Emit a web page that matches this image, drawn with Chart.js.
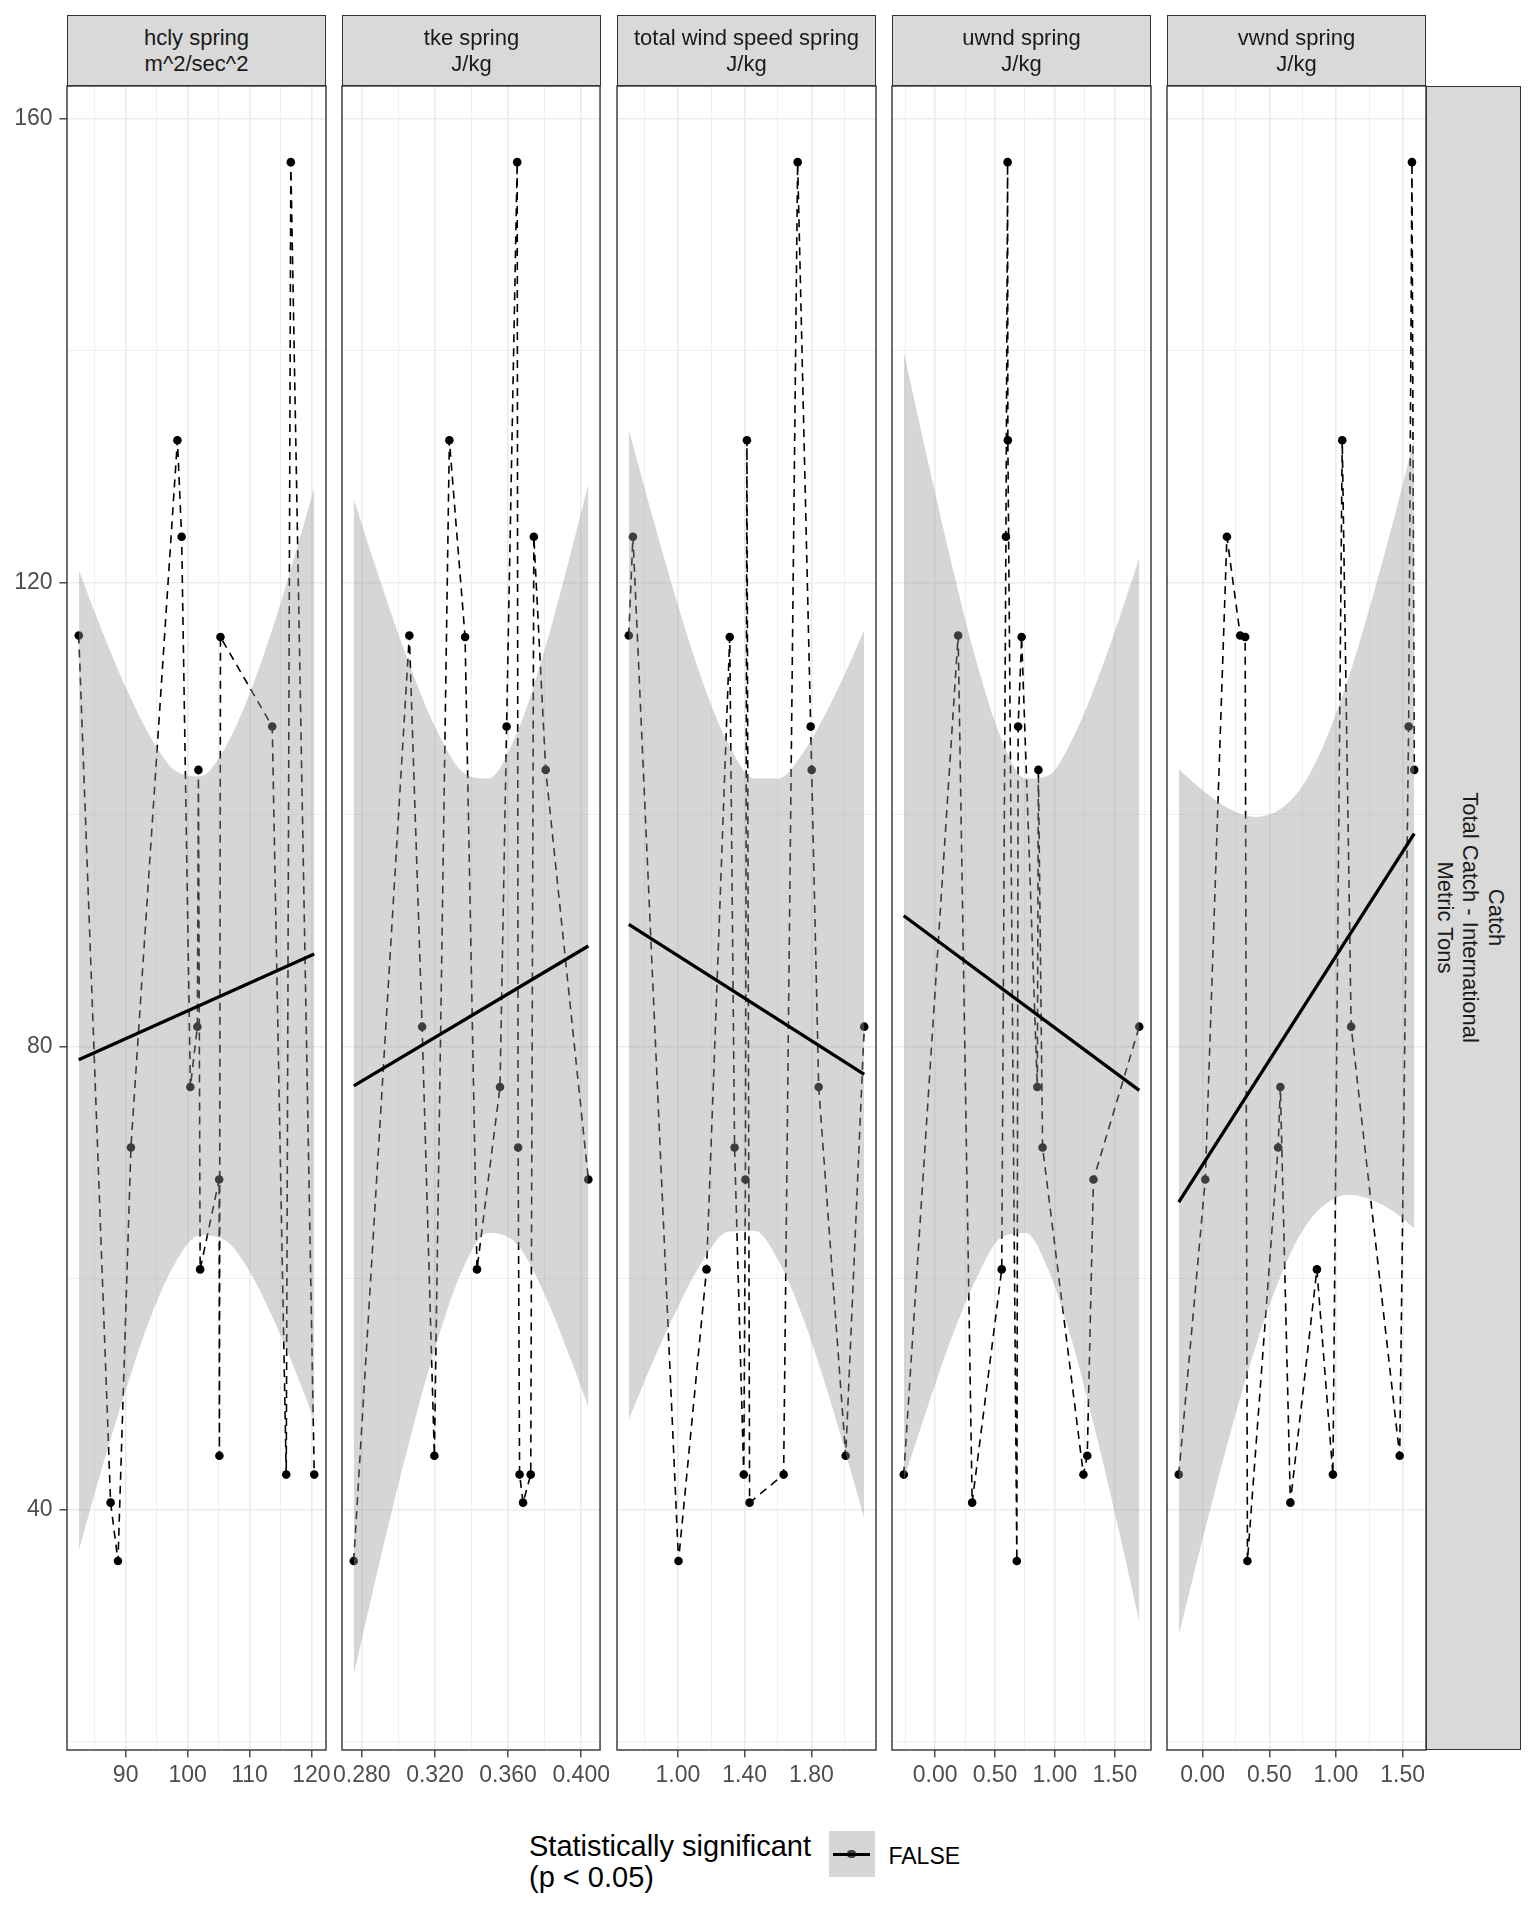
<!DOCTYPE html>
<html>
<head>
<meta charset="utf-8">
<title>Catch vs spring wind indices</title>
<script src="https://cdn.jsdelivr.net/npm/chart.js@4.4.1/dist/chart.umd.min.js"></script>
<style>
html,body{margin:0;padding:0;background:#ffffff;}
body{width:1536px;height:1920px;position:relative;overflow:hidden;font-family:"Liberation Sans",Arial,Helvetica,sans-serif;}
canvas.panel{position:absolute;z-index:1;}
.strip{position:absolute;box-sizing:border-box;background:#D9D9D9;border:1.3px solid #333333;color:#1A1A1A;font-size:22px;line-height:25.7px;text-align:center;display:flex;align-items:center;justify-content:center;z-index:2;}
.rtext{white-space:nowrap;transform:translateX(-3px) rotate(90deg);}
.legTitle{position:absolute;left:529px;top:1831px;font-size:29px;line-height:30.5px;color:#000;white-space:nowrap;}
.legKey{position:absolute;left:829px;top:1831px;width:46px;height:46px;background:#D6D6D6;}
.legDot{position:absolute;left:18.4px;top:18.7px;width:8.6px;height:8.6px;border-radius:50%;background:#3D3D3D;}
.legLine{position:absolute;left:4px;top:21.5px;width:37px;height:3.6px;background:#000;}
.legText{position:absolute;left:888.5px;top:1844.5px;font-size:23px;line-height:23px;color:#000;white-space:nowrap;}
</style>
</head>
<body>
<script>
// ---------------- data ----------------
// shared response: Catch, Total Catch - International, Metric Tons (one value per year)
const catchTons = [156.28, 132.29, 123.97, 115.45, 115.31, 107.6, 103.85, 81.7, 76.5, 71.28, 68.52, 60.76, 44.69, 43.06, 43.06, 40.64, 35.6];

// predictor values for the same years, one array per facet
const hclyX = [116.67, 98.36, 99.04, 82.43, 105.31, 113.67, 101.75, 101.58, 100.45, 90.85, 105.10, 102.03, 105.14, 115.93, 120.45, 87.57, 88.76];
const tkeX  = [0.3650, 0.3279, 0.3741, 0.3060, 0.3365, 0.3592, 0.3806, 0.3130, 0.3556, 0.3655, 0.4039, 0.3430, 0.3197, 0.3663, 0.3724, 0.3682, 0.2756];
const windX = [1.718, 1.414, 0.731, 0.706, 1.311, 1.796, 1.802, 2.117, 1.844, 1.340, 1.405, 1.172, 2.006, 1.395, 1.634, 1.430, 1.004];
const uwndX = [0.605, 0.607, 0.591, 0.192, 0.722, 0.693, 0.862, 1.704, 0.853, 0.897, 1.322, 0.556, 1.270, -0.262, 1.238, 0.309, 0.682];
const vwndX = [1.570, 1.047, 0.182, 0.282, 0.319, 1.545, 1.587, 1.114, 0.583, 0.566, 0.020, 0.857, 1.478, -0.179, 0.977, 0.658, 0.336];

// fitted lines (end points)
const hclyFitX = [82.43, 120.45];   const hclyFitY = [78.84, 87.97];
const tkeFitX  = [0.2756, 0.4039];  const tkeFitY  = [76.59, 88.66];
const windFitX = [0.706, 2.117];    const windFitY = [90.52, 77.58];
const uwndFitX = [-0.262, 1.704];   const uwndFitY = [91.27, 76.21];
const vwndFitX = [-0.179, 1.587];   const vwndFitY = [66.57, 98.36];

// confidence band edges read at several x positions
const hclyBandX  = [82.43, 86, 90, 94, 98, 102, 106, 110, 114, 118, 120.45];
const hclyBandHi = [121.1, 116.1, 111.0, 106.7, 103.8, 103.3, 105.7, 110.4, 116.5, 123.6, 128.2];
const hclyBandLo = [36.5, 43.3, 50.3, 56.6, 61.3, 63.7, 63.3, 60.6, 56.3, 51.2, 47.8];

const tkeBandX  = [0.2756, 0.29, 0.305, 0.32, 0.335, 0.349, 0.365, 0.38, 0.395, 0.4039];
const tkeBandHi = [127.2, 120.2, 113.4, 107.6, 103.7, 103.1, 107.1, 114.2, 123.0, 128.5];
const tkeBandLo = [25.8, 35.7, 45.3, 53.9, 60.7, 63.9, 62.9, 58.6, 52.7, 48.9];

const windBandX  = [0.706, 0.85, 1.0, 1.15, 1.3, 1.46, 1.6, 1.75, 1.9, 2.05, 2.117];
const windBandHi = [133.2, 125.6, 118.1, 111.4, 106.2, 103.1, 103.1, 105.3, 109.1, 113.7, 115.9];
const windBandLo = [47.8, 52.8, 57.5, 61.5, 64.0, 64.1, 61.6, 56.6, 50.1, 42.7, 39.3];

const uwndBandX  = [-0.262, -0.05, 0.15, 0.35, 0.55, 0.755, 0.95, 1.15, 1.35, 1.55, 1.704];
const uwndBandHi = [139.9, 130.0, 121.1, 113.0, 106.6, 103.1, 103.4, 106.6, 111.5, 117.3, 122.1];
const uwndBandLo = [42.6, 49.3, 55.2, 60.1, 63.5, 63.9, 60.6, 54.3, 46.3, 37.5, 30.4];

const vwndBandX  = [-0.179, 0.0, 0.2, 0.4, 0.6, 0.761, 0.9, 1.1, 1.3, 1.45, 1.587];
const vwndBandHi = [103.9, 102.1, 100.5, 99.8, 100.6, 102.7, 105.8, 112.0, 119.8, 126.2, 132.4];
const vwndBandLo = [29.2, 37.5, 46.3, 54.2, 60.6, 64.3, 66.2, 67.2, 66.6, 65.6, 64.3];

// tick labels
const yTicks = [40, 80, 120, 160];          const yTickLabels = ['40', '80', '120', '160'];
const yMinorTicks = [20, 60, 100, 140];
const catchAxisLimits = [19.3, 162.85];

const hclyTicks = [90, 100, 110, 120];      const hclyTickLabels = ['90', '100', '110', '120'];
const hclyMinor = [85, 95, 105, 115];
const tkeTicks = [0.28, 0.32, 0.36, 0.40];  const tkeTickLabels = ['0.280', '0.320', '0.360', '0.400'];
const tkeMinor = [0.30, 0.34, 0.38];
const windTicks = [1.0, 1.4, 1.8];          const windTickLabels = ['1.00', '1.40', '1.80'];
const windMinor = [0.8, 1.2, 1.6, 2.0];
const uwndTicks = [0, 0.5, 1.0, 1.5];       const uwndTickLabels = ['0.00', '0.50', '1.00', '1.50'];
const uwndMinor = [-0.25, 0.25, 0.75, 1.25, 1.75];
const vwndTicks = [0, 0.5, 1.0, 1.5];       const vwndTickLabels = ['0.00', '0.50', '1.00', '1.50'];
const vwndMinor = [0.25, 0.75, 1.25];

const facetTitles = [
  ['hcly spring', 'm^2/sec^2'],
  ['tke spring', 'J/kg'],
  ['total wind speed spring', 'J/kg'],
  ['uwnd spring', 'J/kg'],
  ['vwnd spring', 'J/kg']
];
const rowStripLines = ['Catch', 'Total Catch - International', 'Metric Tons'];
const legendTitleLines = ['Statistically significant', '(p < 0.05)'];
const legendLevels = ['FALSE'];

// ---------------- build ----------------
const panels = [
  {x: hclyX, fx: hclyFitX, fy: hclyFitY, bx: hclyBandX, hi: hclyBandHi, lo: hclyBandLo, maj: hclyTicks, lab: hclyTickLabels, min: hclyMinor},
  {x: tkeX,  fx: tkeFitX,  fy: tkeFitY,  bx: tkeBandX,  hi: tkeBandHi,  lo: tkeBandLo,  maj: tkeTicks,  lab: tkeTickLabels,  min: tkeMinor},
  {x: windX, fx: windFitX, fy: windFitY, bx: windBandX, hi: windBandHi, lo: windBandLo, maj: windTicks, lab: windTickLabels, min: windMinor},
  {x: uwndX, fx: uwndFitX, fy: uwndFitY, bx: uwndBandX, hi: uwndBandHi, lo: uwndBandLo, maj: uwndTicks, lab: uwndTickLabels, min: uwndMinor},
  {x: vwndX, fx: vwndFitX, fy: vwndFitY, bx: vwndBandX, hi: vwndBandHi, lo: vwndBandLo, maj: vwndTicks, lab: vwndTickLabels, min: vwndMinor}
];

const P0 = 67, STEP = 275, PW = 259, PT = 86, PH = 1664, XAX = 50, STRIP_TOP = 15;
Chart.defaults.font.family = '"Liberation Sans", Arial, Helvetica, sans-serif';

const near = (a, b) => Math.abs(a - b) < 1e-9;
const isIn = (arr, v) => arr.some(t => near(t, v));

const panelBorder = {
  id: 'panelBorder',
  afterDraw(chart) {
    const {ctx, chartArea: a} = chart;
    ctx.save();
    ctx.strokeStyle = '#333333';
    ctx.lineWidth = 1.4;
    ctx.strokeRect(a.left, a.top, a.right - a.left, a.bottom - a.top);
    ctx.restore();
  }
};

panels.forEach((p, k) => {
  const left = P0 + k * STEP;
  const padL = k === 0 ? 67 : 14, padR = 14, padTop = 26;
  const cv = document.createElement('canvas');
  cv.className = 'panel';
  const cw = padL + PW + padR, ch = padTop + PH + XAX;
  cv.width = cw; cv.height = ch;
  cv.style.left = (left - padL) + 'px';
  cv.style.top = (PT - padTop) + 'px';
  cv.style.width = cw + 'px'; cv.style.height = ch + 'px';
  document.body.appendChild(cv);

  // points, in x order (as a line geom connects them)
  const pts = p.x.map((xv, i) => ({x: xv, y: catchTons[i]}))
                 .map((d, i) => ({d, i}))
                 .sort((a, b) => (a.d.x - b.d.x) || (a.i - b.i))
                 .map(o => o.d);
  const xmin = Math.min(...p.x), xmax = Math.max(...p.x), xr = xmax - xmin;
  const xAll = p.maj.concat(p.min).sort((a, b) => a - b);
  const yAll = yTicks.concat(yMinorTicks).sort((a, b) => a - b);

  new Chart(cv, {
    type: 'line',
    data: {
      datasets: [
        {
          data: pts, borderColor: '#000000', borderWidth: 1.6, borderDash: [8, 6],
          pointRadius: 4.3, pointBackgroundColor: '#000000', pointBorderWidth: 0, pointBorderColor: '#000000',
          pointHoverRadius: 4.3, tension: 0, fill: false, order: 3
        },
        {
          data: p.bx.map((xv, i) => ({x: xv, y: p.lo[i]})), borderColor: 'rgba(0,0,0,0)', borderWidth: 1,
          pointRadius: 0, cubicInterpolationMode: 'monotone', fill: false, order: 2
        },
        {
          data: p.bx.map((xv, i) => ({x: xv, y: p.hi[i]})), borderColor: 'rgba(0,0,0,0)', borderWidth: 1,
          pointRadius: 0, cubicInterpolationMode: 'monotone', fill: '-1',
          backgroundColor: 'rgba(153,153,153,0.4)', order: 2
        },
        {
          data: p.fx.map((xv, i) => ({x: xv, y: p.fy[i]})), borderColor: '#000000', borderWidth: 3.3,
          pointRadius: 0, tension: 0, fill: false, order: 1, borderCapStyle: 'butt'
        }
      ]
    },
    options: {
      responsive: false, animation: false, devicePixelRatio: 1, events: [],
      layout: {padding: {left: k === 0 ? 0 : padL, right: padR, top: padTop, bottom: 0}},
      plugins: {legend: {display: false}, tooltip: {enabled: false}},
      scales: {
        x: {
          type: 'linear', min: xmin - 0.05 * xr, max: xmax + 0.05 * xr, bounds: 'data',
          afterBuildTicks: s => { s.ticks = xAll.map(v => ({value: v})); },
          afterFit: s => { s.height = XAX; },
          border: {display: false},
          grid: {
            color: '#EBEBEB', lineWidth: c => (c.tick && isIn(p.maj, c.tick.value)) ? 1.6 : 0.8,
            drawTicks: true, tickLength: 7.5, tickWidth: 1.3,
            tickColor: c => (c.tick && isIn(p.maj, c.tick.value)) ? '#333333' : 'rgba(0,0,0,0)'
          },
          ticks: {
            padding: 4, color: '#4D4D4D', font: {size: 23}, autoSkip: false, maxRotation: 0, minRotation: 0,
            callback: v => { const j = p.maj.findIndex(t => near(t, v)); return j >= 0 ? p.lab[j] : ''; }
          }
        },
        y: {
          type: 'linear', min: catchAxisLimits[0], max: catchAxisLimits[1], bounds: 'data',
          afterBuildTicks: s => { s.ticks = yAll.map(v => ({value: v})); },
          afterFit: s => { s.width = k === 0 ? 67 : 0; },
          border: {display: false},
          grid: {
            color: '#EBEBEB', lineWidth: c => (c.tick && isIn(yTicks, c.tick.value)) ? 1.6 : 0.8,
            drawTicks: k === 0, tickLength: 7.5, tickWidth: 1.3,
            tickColor: c => (c.tick && isIn(yTicks, c.tick.value)) ? '#333333' : 'rgba(0,0,0,0)'
          },
          ticks: {
            display: k === 0, padding: 7, color: '#4D4D4D', font: {size: 23}, autoSkip: false,
            callback: v => { const j = yTicks.findIndex(t => near(t, v)); return j >= 0 ? yTickLabels[j] : ''; }
          }
        }
      }
    },
    plugins: [panelBorder]
  });

  // facet strip
  const st = document.createElement('div');
  st.className = 'strip';
  st.style.left = left + 'px';
  st.style.top = STRIP_TOP + 'px';
  st.style.width = PW + 'px';
  st.style.height = (PT - STRIP_TOP) + 'px';
  const inner = document.createElement('div');
  facetTitles[k].forEach((t, i) => {
    if (i) inner.appendChild(document.createElement('br'));
    inner.appendChild(document.createTextNode(t));
  });
  st.appendChild(inner);
  document.body.appendChild(st);
});

// right-hand row strip
(function () {
  const left = P0 + 4 * STEP + PW;
  const st = document.createElement('div');
  st.className = 'strip';
  st.style.left = left + 'px';
  st.style.top = PT + 'px';
  st.style.width = (1521 - left) + 'px';
  st.style.height = PH + 'px';
  const inner = document.createElement('div');
  inner.className = 'rtext';
  rowStripLines.forEach((t, i) => {
    if (i) inner.appendChild(document.createElement('br'));
    inner.appendChild(document.createTextNode(t));
  });
  st.appendChild(inner);
  document.body.appendChild(st);
})();

// legend
(function () {
  const t = document.createElement('div');
  t.className = 'legTitle';
  legendTitleLines.forEach((s, i) => {
    if (i) t.appendChild(document.createElement('br'));
    t.appendChild(document.createTextNode(s));
  });
  document.body.appendChild(t);
  const key = document.createElement('div');
  key.className = 'legKey';
  const dot = document.createElement('div'); dot.className = 'legDot';
  const ln = document.createElement('div'); ln.className = 'legLine';
  key.appendChild(dot); key.appendChild(ln);
  document.body.appendChild(key);
  const lt = document.createElement('div');
  lt.className = 'legText';
  lt.textContent = legendLevels[0];
  document.body.appendChild(lt);
})();
</script>
</body>
</html>
